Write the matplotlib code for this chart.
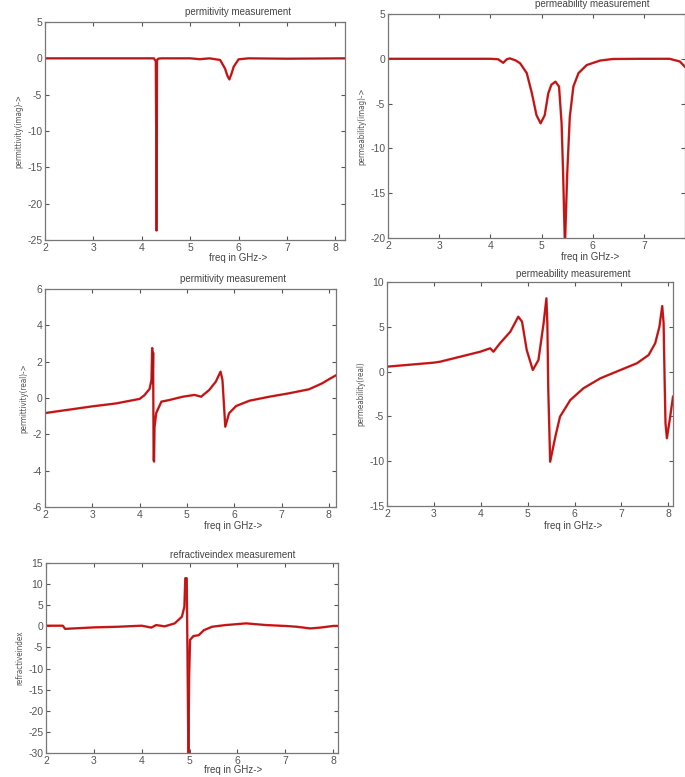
import numpy as np
import matplotlib
matplotlib.use('Agg')
import matplotlib.pyplot as plt

# permitividade (parte imaginaria)
f_eps_im = [2.0, 4.0, 4.25, 4.29, 4.30, 4.305, 4.31, 4.315, 4.32, 4.34, 4.4, 5.0, 5.2,
            5.4, 5.62, 5.72, 5.77, 5.81, 5.85, 5.9, 6.0, 6.2, 7.0, 8.2]
eps_im = [0.0, 0.0, 0.0, -0.4, -12.0, -23.7, -18.0, -0.5, -0.2, -0.05, 0.0, 0.0, -0.12,
          0.0, -0.23, -1.4, -2.4, -2.9, -2.2, -1.15, -0.14, 0.0, -0.05, 0.0]

# permeabilidade (parte imaginaria)
f_mu_im = [2.0, 4.0, 4.15, 4.25, 4.32, 4.38, 4.5, 4.58, 4.71, 4.81, 4.90, 4.98, 5.06,
           5.13, 5.19, 5.27, 5.34, 5.39, 5.42, 5.455, 5.5, 5.55, 5.62, 5.72, 5.88, 6.14,
           6.39, 6.92, 7.5, 7.7, 7.8]
mu_im = [0.0, 0.0, -0.05, -0.45, -0.05, 0.05, -0.2, -0.5, -1.6, -3.85, -6.3, -7.2, -6.3,
         -3.85, -2.9, -2.55, -3.1, -7.2, -12.8, -21.0, -12.8, -6.5, -3.1, -1.6, -0.7, -0.2,
         -0.02, 0.0, 0.0, -0.3, -0.9]

# permitividade (parte real)
f_eps_re = [2.0, 3.0, 3.5, 4.0, 4.1, 4.21, 4.25, 4.265, 4.275, 4.285, 4.295, 4.305,
            4.315, 4.35, 4.46, 4.63, 4.91, 5.16, 5.30, 5.47, 5.61, 5.71, 5.75, 5.81,
            5.89, 6.04, 6.32, 6.74, 7.16, 7.58, 7.86, 8.0, 8.15]
eps_re = [-0.83, -0.46, -0.3, -0.05, 0.15, 0.5, 0.99, 2.75, 0.8, 2.5, -3.4, -3.5,
          -1.6, -0.83, -0.2, -0.11, 0.07, 0.17, 0.07, 0.44, 0.9, 1.45, 1.0, -1.58,
          -0.84, -0.44, -0.15, 0.07, 0.26, 0.48, 0.81, 1.03, 1.25]

# permeabilidade (parte real)
f_mu_re = [2.0, 3.0, 3.13, 3.56, 3.99, 4.2, 4.27, 4.41, 4.63, 4.80, 4.88, 4.98, 5.11,
           5.23, 5.34, 5.40, 5.42, 5.44, 5.48, 5.59, 5.69, 5.91, 6.19, 6.55, 6.98, 7.33,
           7.58, 7.72, 7.81, 7.87, 7.90, 7.92, 7.94, 7.97, 8.04, 8.1]
mu_re = [0.55, 1.0, 1.1, 1.66, 2.22, 2.6, 2.22, 3.16, 4.45, 6.13, 5.57, 2.41, 0.18,
         1.29, 5.39, 8.18, 5.4, -2.05, -10.06, -7.27, -5.03, -3.17, -1.86, -0.75, 0.18,
         0.93, 1.85, 3.16, 5.0, 7.32, 5.39, -0.57, -5.77, -7.44, -5.03, -2.8]

# indice de refracao
f_n = [2.0, 2.35, 2.4, 3.0, 3.5, 4.0, 4.2, 4.3, 4.48, 4.69, 4.84, 4.89, 4.91, 4.94,
       4.96, 4.975, 4.99, 5.01, 5.08, 5.19, 5.30, 5.47, 5.75, 6.18, 6.6, 7.03, 7.24,
       7.52, 7.73, 8.01, 8.1]
n_idx = [0.15, 0.15, -0.6, -0.25, -0.1, 0.15, -0.3, 0.3, 0.0, 0.7, 2.3, 4.6, 11.4, 11.4,
         -12.0, -31.0, -12.0, -3.2, -2.3, -2.1, -0.9, -0.1, 0.3, 0.7, 0.3, 0.07, -0.1,
         -0.5, -0.3, 0.1, 0.1]

W, H = 685, 777
plt.rcParams['font.family'] = ['Liberation Sans', 'DejaVu Sans']
plt.rcParams['axes.unicode_minus'] = False
fig = plt.figure(figsize=(W / 100, H / 100), dpi=100)

cinza = '#555555'


def painel(px, x, y, xlim, ylim, yticks, xticks, ylabel, titulo, tit_px, xl_px):
    # px = (esquerda, direita, topo, base) em pixels
    l, r, t, b = px
    ax = fig.add_axes([l / W, 1 - b / H, (r - l) / W, (b - t) / H])
    ax.plot(x, y, color='#dc1c1c', lw=1.7)
    ax.plot(x, y, color='#7a1515', lw=0.6, alpha=0.6)
    ax.set_xlim(*xlim)
    ax.set_ylim(*ylim)
    ax.set_xticks(xticks)
    ax.set_yticks(yticks)
    ax.tick_params(direction='in', top=True, right=True, length=3, width=0.8,
                   colors=cinza, labelsize=7.5, pad=2)
    for s in ax.spines.values():
        s.set_color('#777777')
        s.set_linewidth(0.9)
    ax.set_ylabel(ylabel, fontsize=5.8, color=cinza, fontstretch='condensed',
                  family=['Liberation Sans Narrow', 'DejaVu Sans'], labelpad=3)
    fig.text(tit_px[0] / W, 1 - tit_px[1] / H, titulo, fontsize=7, color='#444444',
             ha='center', va='center')
    fig.text(xl_px[0] / W, 1 - xl_px[1] / H, 'freq in GHz->', fontsize=7, color='#444444',
             ha='center', va='center')
    return ax


painel((45, 345, 22, 240), f_eps_im, eps_im, (2, 8.2), (-25, 5),
       range(-25, 6, 5), range(2, 9), 'permittivity(imag)->',
       'permitivity measurement', (238, 12), (238, 258))
painel((388, 685, 14, 238), f_mu_im, mu_im, (2, 7.8), (-20, 5),
       range(-20, 6, 5), range(2, 8), 'permeability(imag)->',
       'permeability measurement', (592, 4), (590, 257))
painel((45, 336, 289, 507), f_eps_re, eps_re, (2, 8.15), (-6, 6),
       range(-6, 7, 2), range(2, 9), 'permittivity(real)->',
       'permitivity measurement', (233, 279), (233, 526))
painel((387, 673, 282, 506), f_mu_re, mu_re, (2, 8.1), (-15, 10),
       range(-15, 11, 5), range(2, 9), 'permeability(real)',
       'permeability measurement', (573, 274), (573, 526))
painel((46, 338, 563, 753), f_n, n_idx, (2, 8.1), (-30, 15),
       range(-30, 16, 5), range(2, 9), 'refractiveindex',
       'refractiveindex measurement', (233, 555), (233, 770))

fig.savefig('out.png', dpi=100, facecolor='white')
